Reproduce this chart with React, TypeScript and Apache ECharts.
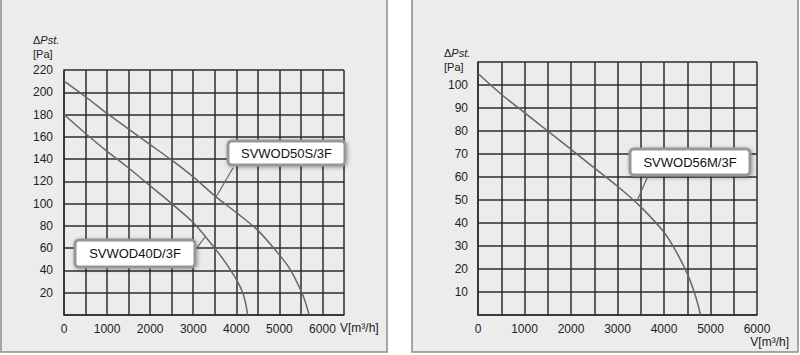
import React, { useEffect, useRef } from "react";
import * as echarts from "echarts";

// Left chart
const flow50S = [0, 500, 1000, 1500, 2000, 2500, 3000, 3500, 4000, 4500, 5000, 5250, 5500, 5600, 5690];
const press50S = [210, 196, 181, 167, 153, 139, 124, 107, 92, 76, 54, 41, 22, 12, 0];
const flow40D = [0, 500, 1000, 1500, 2000, 2500, 3000, 3500, 3750, 4000, 4150, 4230, 4260];
const press40D = [180, 163, 147, 132, 116, 100, 83, 60, 47, 32, 20, 8, 0];
// Right chart
const flow56M = [0, 500, 1000, 1500, 2000, 2500, 3000, 3500, 4000, 4250, 4500, 4650, 4750, 4780];
const press56M = [105, 96, 88, 80, 72, 64, 56, 47, 36, 28, 18, 10, 3, 0];

const leftXMax = 6500;
const leftYMax = 220;
const rightXMax = 6000;
const rightYMax = 110;

const zip = (a: number[], b: number[]) => a.map((v, i) => [v, b[i]]);

const gridColor = "#2e2e2e";
const curveColor = "#666";
const textColor = "#222";
const font = "Liberation Sans, Arial, sans-serif";

function xAxisCfg(gridIndex: number, max: number) {
  return {
    type: "value",
    gridIndex,
    min: 0,
    max,
    interval: 500,
    axisLine: { show: true, lineStyle: { color: gridColor, width: 1.5 } },
    axisTick: { show: false },
    splitLine: { show: true, lineStyle: { color: gridColor, width: 1.5 } },
    axisLabel: {
      color: textColor,
      fontSize: 12,
      fontFamily: font,
      margin: 8,
      showMaxLabel: true,
      formatter: (v: number) => (v % 1000 === 0 && v <= 6000 ? String(v) : ""),
    },
  };
}

function yAxisCfg(gridIndex: number, max: number, interval: number, margin: number) {
  return {
    type: "value",
    gridIndex,
    min: 0,
    max,
    interval,
    axisLine: { show: true, lineStyle: { color: gridColor, width: 1.5 } },
    axisTick: { show: false },
    splitLine: { show: true, lineStyle: { color: gridColor, width: 1.5 } },
    axisLabel: {
      color: textColor,
      fontSize: 12,
      fontFamily: font,
      margin,
      showMaxLabel: true,
      formatter: (v: number) => (v === 0 || (max === 110 && v === 110) ? "" : String(v)),
    },
  };
}

function labelBox(x: number, y: number, w: number, h: number, text: string) {
  return [
    {
      type: "rect",
      z: 100,
      shape: { x, y, width: w, height: h, r: 4 },
      style: {
        fill: "#fff",
        stroke: "#979797",
        lineWidth: 3,
        shadowBlur: 4,
        shadowColor: "rgba(0,0,0,0.35)",
        shadowOffsetX: 1,
        shadowOffsetY: 1,
      },
    },
    {
      type: "text",
      z: 101,
      x: x + w / 2,
      y: y + h / 2,
      style: {
        text,
        fill: "#111",
        font: `13px ${font}`,
        align: "center",
        verticalAlign: "middle",
      },
    },
  ];
}

function pointer(x1: number, y1: number, x2: number, y2: number) {
  return {
    type: "line",
    z: 99,
    shape: { x1, y1, x2, y2 },
    style: { stroke: curveColor, lineWidth: 1.2 },
  };
}

function yName(x: number, y: number) {
  return [
    {
      type: "text",
      z: 50,
      x,
      y,
      style: {
        text: "{a|Δ}{b|Pst.}",
        rich: {
          a: { fontSize: 11, fontFamily: font, fill: textColor },
          b: { fontSize: 11, fontFamily: font, fontStyle: "italic", fill: textColor },
        },
        verticalAlign: "middle",
      },
    },
    {
      type: "text",
      z: 50,
      x,
      y: y + 14,
      style: {
        text: "[Pa]",
        font: `11px ${font}`,
        fill: textColor,
        verticalAlign: "middle",
      },
    },
  ];
}

function curve(name: string, xi: number, flow: number[], press: number[]) {
  return {
    name,
    type: "line",
    xAxisIndex: xi,
    yAxisIndex: xi,
    data: zip(flow, press),
    smooth: 0.3,
    symbol: "none",
    lineStyle: { color: curveColor, width: 1.5 },
    z: 5,
  };
}

export default function App() {
  const ref = useRef<HTMLDivElement>(null);
  useEffect(() => {
    if (!ref.current) return;
    const chart = echarts.init(ref.current, undefined, { renderer: "svg" });
    chart.setOption({
      animation: false,
      backgroundColor: "#fff",
      grid: [
        { left: 64, top: 70, width: 280, height: 245 },
        { left: 478, top: 62, width: 279, height: 253 },
      ],
      xAxis: [xAxisCfg(0, leftXMax), xAxisCfg(1, rightXMax)],
      yAxis: [yAxisCfg(0, leftYMax, 20, 11), yAxisCfg(1, rightYMax, 10, 10)],
      series: [
        curve("SVWOD50S/3F", 0, flow50S, press50S),
        curve("SVWOD40D/3F", 0, flow40D, press40D),
        curve("SVWOD56M/3F", 1, flow56M, press56M),
      ],
      graphic: [
        {
          type: "rect",
          z: -100,
          silent: true,
          shape: { x: 1, y: -2, width: 386, height: 354 },
          style: { fill: "#ececec", stroke: "#8a8a8a", lineWidth: 1.5 },
        },
        {
          type: "rect",
          z: -100,
          silent: true,
          shape: { x: 412, y: -2, width: 386, height: 354 },
          style: { fill: "#ececec", stroke: "#8a8a8a", lineWidth: 1.5 },
        },
        ...yName(33, 40),
        ...yName(444, 53),
        {
          type: "text",
          z: 50,
          x: 340,
          y: 328,
          style: { text: "V[m³/h]", font: `12px ${font}`, fill: textColor, verticalAlign: "middle" },
        },
        {
          type: "text",
          z: 50,
          x: 789,
          y: 342,
          style: { text: "V[m³/h]", font: `12px ${font}`, fill: textColor, align: "right", verticalAlign: "middle" },
        },
        pointer(233, 168, 216, 197),
        ...labelBox(228, 141, 117, 24, "SVWOD50S/3F"),
        pointer(196, 249, 205, 237),
        ...labelBox(75, 240, 120, 27, "SVWOD40D/3F"),
        pointer(648, 176, 637, 201),
        ...labelBox(630, 149, 120, 26, "SVWOD56M/3F"),
      ],
    });
    return () => chart.dispose();
  }, []);
  return (
    <div
      ref={ref}
      style={{ position: "absolute", left: 0, top: 0, width: 800, height: 355 }}
    />
  );
}
